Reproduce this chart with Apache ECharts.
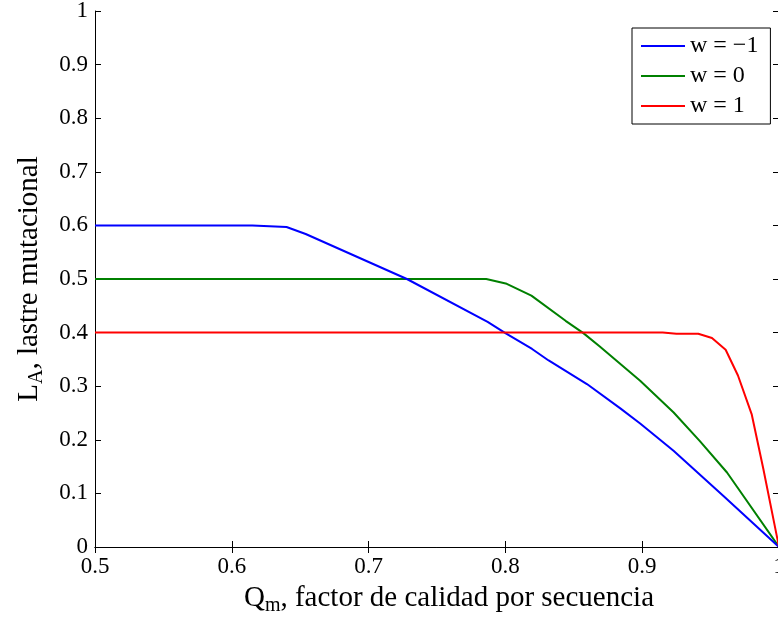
<!DOCTYPE html>
<html>
<head>
<meta charset="utf-8">
<script src="https://cdn.jsdelivr.net/npm/echarts@6/dist/echarts.min.js"></script>
<style>
  html, body { margin: 0; padding: 0; background: #fff; }
  #chart { width: 778px; height: 621px; }
</style>
</head>
<body>
<div id="chart"></div>
<script>
// Mutational load L_A versus per-sequence quality factor Q_m, for three values of w.
const xTicks = [0.5, 0.6, 0.7, 0.8, 0.9, 1];
const yTicks = [0, 0.1, 0.2, 0.3, 0.4, 0.5, 0.6, 0.7, 0.8, 0.9, 1];

const seriesNames = ['w = \u22121', 'w = 0', 'w = 1'];

const qBlue = [0.5, 0.615, 0.64, 0.654, 0.728, 0.787, 0.80, 0.8195, 0.8316, 0.8596, 0.884, 0.8985, 0.9229, 0.9594, 1.0];
const lBlue = [0.6, 0.6, 0.597, 0.584, 0.5, 0.42, 0.399, 0.3695, 0.348, 0.304, 0.2586, 0.2305, 0.1794, 0.0953, 0.0];

const qGreen = [0.5, 0.786, 0.801, 0.819, 0.844, 0.857, 0.869, 0.8985, 0.923, 0.942, 0.962, 1.0];
const lGreen = [0.5, 0.5, 0.491, 0.469, 0.422, 0.399, 0.374, 0.31, 0.251, 0.198, 0.139, 0.0];

const qRed = [0.5, 0.915, 0.925, 0.941, 0.951, 0.961, 0.970, 0.980, 0.9886, 1.0];
const lRed = [0.4, 0.4, 0.398, 0.398, 0.390, 0.368, 0.320, 0.248, 0.145, 0.0];

const colors = ['#0000ff', '#008000', '#ff0000'];
const FONT = '"Liberation Serif", "DejaVu Serif", serif';

function pairs(xs, ys) { return xs.map((x, i) => [x, ys[i]]); }

const chart = echarts.init(document.getElementById('chart'), null, { renderer: 'canvas' });

const axisCommon = {
  type: 'value',
  axisLine: { show: true, lineStyle: { color: '#000', width: 1 } },
  axisTick: { show: true, inside: true, length: 6, lineStyle: { color: '#000', width: 1 } },
  splitLine: { show: false }
};

const titleRich = {
  a: { fontFamily: FONT, fontSize: 29, color: '#000', lineHeight: 36 },
  s: { fontFamily: FONT, fontSize: 20, color: '#000', lineHeight: 36, verticalAlign: 'bottom', padding: [13, 0, 0, 0] }
};

chart.setOption({
  animation: false,
  backgroundColor: '#fff',
  color: colors,
  grid: { left: 95, top: 11, width: 684, height: 536, containLabel: false, outerBoundsMode: 'none' },
  xAxis: [
    Object.assign({}, axisCommon, {
      position: 'bottom', min: xTicks[0], max: xTicks[xTicks.length - 1], interval: 0.1,
      axisLabel: { color: '#000', fontFamily: FONT, fontSize: 23, margin: 8, showMaxLabel: true },
      name: '{a|Q}{s|m}{a|, factor de calidad por secuencia}',
      nameLocation: 'middle', nameGap: 28,
      nameTextStyle: { color: '#000', fontFamily: FONT, rich: titleRich, padding: [0, 0, 0, 24] }
    }),
    Object.assign({}, axisCommon, {
      position: 'top', min: xTicks[0], max: xTicks[xTicks.length - 1], interval: 0.1,
      axisLabel: { show: false }
    })
  ],
  yAxis: [
    Object.assign({}, axisCommon, {
      position: 'left', min: yTicks[0], max: yTicks[yTicks.length - 1], interval: 0.1,
      axisLabel: { color: '#000', fontFamily: FONT, fontSize: 23, margin: 7 },
      name: '{a|L}{s|A}{a|, lastre mutacional}',
      nameLocation: 'middle', nameGap: 48, nameRotate: 90,
      nameTextStyle: { color: '#000', fontFamily: FONT, rich: titleRich }
    }),
    Object.assign({}, axisCommon, {
      position: 'right', min: yTicks[0], max: yTicks[yTicks.length - 1], interval: 0.1,
      axisLabel: { show: false }
    })
  ],
  legend: {
    orient: 'vertical', left: 632, top: 28,
    backgroundColor: '#fff', borderColor: '#000', borderWidth: 1,
    padding: [6, 12, 6, 9], itemGap: 6,
    itemWidth: 44, itemHeight: 2, icon: 'rect',
    textStyle: { color: '#000', fontFamily: FONT, fontSize: 24, lineHeight: 22 },
    data: seriesNames
  },
  series: [
    { name: seriesNames[0], type: 'line', data: pairs(qBlue, lBlue), showSymbol: false, lineStyle: { width: 2, color: colors[0] }, z: 3 },
    { name: seriesNames[1], type: 'line', data: pairs(qGreen, lGreen), showSymbol: false, lineStyle: { width: 2, color: colors[1] }, z: 2 },
    { name: seriesNames[2], type: 'line', data: pairs(qRed, lRed), showSymbol: false, lineStyle: { width: 2, color: colors[2] }, z: 4 }
  ]
});
</script>
</body>
</html>
